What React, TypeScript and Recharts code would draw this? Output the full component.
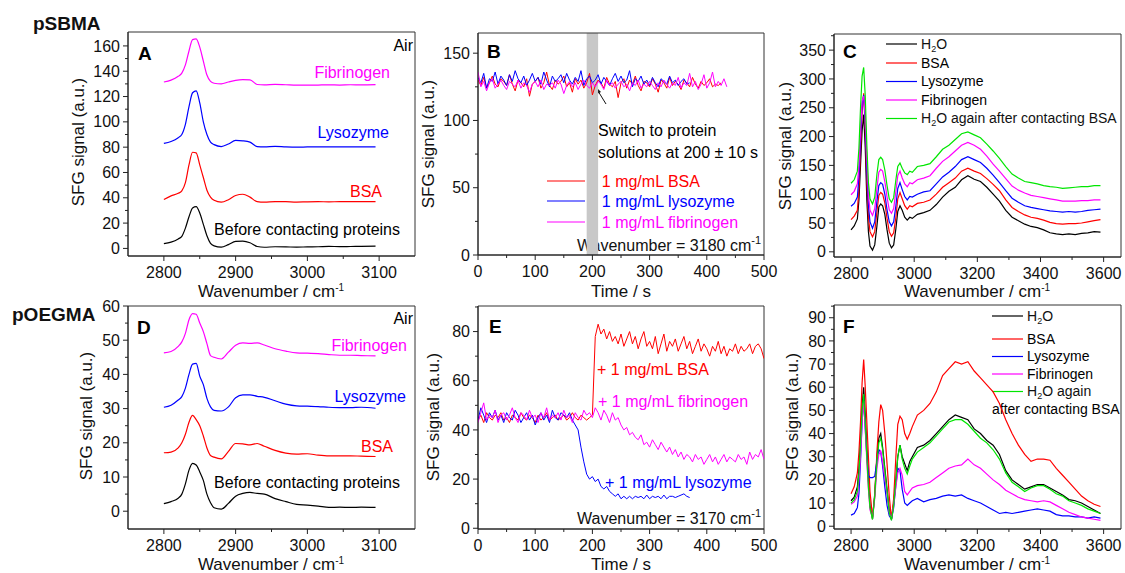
import React from 'react'
import { LineChart, Line, XAxis, YAxis, ReferenceArea } from 'recharts'

const FONT = '"Liberation Sans", Arial, Helvetica, sans-serif'

// ---- panels A / D : spectra in air ----
const wnAD = [2800, 2810, 2820, 2825, 2830, 2835, 2840, 2845, 2850, 2855, 2860, 2865, 2870, 2880, 2890, 2900, 2910, 2920, 2930, 2940, 2955, 2970, 2985, 3000, 3015, 3030, 3045, 3060, 3075, 3095]

const aBefore = [3.8, 5, 7.5, 9.5, 16, 25, 32, 33, 28, 19, 10, 4, 2, 1, 3, 5.5, 5.8, 4.5, 1.5, 0.9, 1.3, 1.2, 1.0, 1.2, 1.3, 1.6, 1.4, 1.5, 1.6, 1.8]
const aBSA = [38.7, 41.5, 43.5, 45.5, 52, 66, 76, 75.5, 66, 56, 46, 40.5, 38, 36.5, 38.5, 41.8, 42.8, 40.5, 37, 36.6, 37, 36.9, 36.6, 36.8, 36.9, 36.8, 36.9, 36.9, 37, 36.9]
const aLys = [83, 84.5, 87.5, 90, 98, 112, 123, 124.5, 115, 100, 90, 84, 82, 80.5, 82.5, 85.3, 85, 84, 80.5, 80.3, 80.6, 80.2, 80, 80.2, 80.3, 80.2, 80.3, 80.2, 80.3, 80.2]
const aFib = [131.5, 133, 136, 138.5, 145, 156, 165, 165.5, 159, 148, 137, 132, 130.5, 130, 131.5, 132.8, 133.3, 133.2, 129.5, 129.2, 129.6, 129.3, 129, 129, 129.1, 129.2, 129.1, 129.3, 129.2, 129.4]

const dBefore = [2.2, 2.8, 3.8, 5, 8, 12, 14, 13.5, 11.5, 9, 5, 2.5, 1, 0.6, 2.3, 4.4, 5.2, 5.5, 5.2, 5, 3.7, 2.8, 2.0, 1.8, 1.5, 1.1, 1.2, 1.1, 1.2, 1.1]
const dBSA = [17.1, 17.3, 18.5, 20, 22.5, 26, 28, 26.8, 25, 22, 18.5, 16.3, 15.8, 15.3, 17.5, 19.8, 19.7, 19.4, 19.8, 19, 17.8, 17, 16.7, 16.8, 16.4, 16.2, 16.2, 16.2, 16.1, 16]
const dLys = [30.4, 31, 32.5, 33.5, 36, 40, 43, 43.2, 39.5, 37, 33, 30.5, 29.5, 29.3, 30.5, 33.2, 34, 34, 33.6, 33.3, 32.3, 31.3, 30.8, 30.7, 30.6, 30.4, 30.3, 30.3, 30.4, 30.1]
const dFib = [46.3, 46.7, 48.2, 49.5, 52, 56, 57.8, 57.6, 55, 52.5, 49, 45.5, 45, 44.5, 46.5, 48.5, 49.2, 49.1, 49.2, 48.6, 47.5, 46.8, 46.3, 46.2, 46.1, 45.8, 45.6, 45.6, 45.5, 45.4]

// ---- panels C / F : spectra in solution ----
const wnCF = [2800, 2810, 2820, 2825, 2830, 2835, 2840, 2845, 2850, 2855, 2860, 2868, 2875, 2882, 2888, 2894, 2900, 2907, 2914, 2921, 2928, 2935, 2942, 2948, 2955, 2962, 2970, 2978, 2986, 2994,
  3010, 3030, 3050, 3070, 3090, 3110, 3130, 3150, 3170, 3190, 3210, 3230, 3250, 3270, 3290, 3310, 3330, 3350, 3370, 3390, 3410, 3430, 3450, 3470, 3490, 3510, 3530, 3550, 3570, 3590]

const cH2O = [38, 45, 57, 90, 150, 210, 238, 180, 90, 35, 10, 3, 12, 45, 78, 83, 80, 65, 38, 15, 7, 12, 40, 70, 80, 72, 60, 55, 60, 58,
  65, 68, 72, 82, 95, 105, 112, 125, 132, 126, 122, 112, 100, 88, 72, 60, 54, 48, 44, 42, 38, 33, 31, 30, 31, 30, 32, 33, 35, 34]
const cBSA = [56, 62, 72, 110, 175, 245, 275, 215, 120, 60, 35, 26, 35, 70, 98, 103, 100, 85, 58, 35, 27, 33, 60, 92, 103, 92, 80, 74, 80, 78,
  84, 86, 90, 100, 112, 120, 128, 140, 145, 140, 136, 127, 117, 106, 90, 77, 70, 64, 60, 58, 55, 51, 49, 48, 49, 49, 50, 52, 54, 56]
const cLys = [79, 84, 95, 130, 195, 255, 272, 225, 140, 80, 52, 41, 52, 88, 115, 120, 117, 100, 73, 52, 45, 52, 80, 110, 120, 108, 96, 90, 96, 95,
  100, 104, 106, 118, 130, 138, 148, 160, 165, 160, 155, 145, 133, 120, 106, 93, 86, 80, 77, 75, 73, 71, 70, 69, 70, 69, 70, 72, 73, 74]
const cFib = [99, 105, 118, 150, 210, 262, 270, 235, 160, 100, 72, 63, 75, 110, 138, 143, 140, 122, 95, 73, 67, 75, 105, 132, 140, 128, 118, 113, 120, 118,
  125, 128, 132, 145, 157, 165, 175, 185, 190, 185, 178, 166, 152, 140, 127, 114, 107, 102, 98, 96, 94, 92, 90, 88, 88, 88, 89, 89, 90, 90]
const cAgain = [119, 125, 140, 180, 250, 305, 320, 270, 185, 120, 92, 83, 95, 135, 160, 164, 160, 142, 115, 92, 86, 94, 125, 148, 154, 145, 137, 134, 140, 138,
  148, 150, 153, 165, 178, 185, 195, 205, 208, 203, 198, 187, 175, 162, 148, 135, 128, 122, 120, 118, 115, 113, 112, 110, 111, 112, 113, 113, 115, 115]

const fH2O = [11, 12.5, 17, 25, 37, 52, 60, 48, 34, 20, 9, 3, 14, 30, 38, 40, 34, 25, 16, 7, 3, 10, 20, 30, 35, 30, 27, 24, 28, 30,
  34, 35, 37, 40, 43, 46, 48, 47, 46, 42, 40, 37, 35, 31, 24, 20, 18, 16, 17, 18, 18, 16.5, 15, 13.5, 11.5, 11, 10, 8.5, 7, 5.5]
const fBSA = [14, 17, 23, 32, 45, 62, 72, 60, 45, 30, 15, 4, 13, 32, 45, 52.5, 50, 40, 27, 13, 3, 12, 30, 44, 47.5, 46, 40, 37.5, 40, 43,
  48, 50, 53, 58, 65, 68, 71, 70, 71, 67, 64, 61, 58, 53, 46, 40, 35, 31, 28, 29, 29, 28.5, 25, 22, 19, 16, 13, 11, 9.5, 8.5]
const fLys = [4.8, 5.5, 8, 14, 28, 45, 56, 42, 30, 22, 21, 21, 21.5, 28, 33, 32, 26, 17, 9, 4.5, 3, 8, 18, 25, 24, 16, 10, 9, 10, 11,
  12, 10.5, 11.5, 12, 13, 13.5, 13, 13.5, 12, 11, 10, 8.5, 7, 5.5, 6, 5.5, 6, 6.5, 7, 7.5, 7, 6.5, 5, 4.5, 4.5, 4, 4, 3.5, 4, 3.5]
const fFib = [9.5, 10.5, 13, 20, 30, 45, 54, 42, 28, 16, 7, 3.5, 12, 25, 31, 32.5, 28, 21, 14, 6, 3, 9, 17, 23, 25, 22, 15, 13.5, 15, 16.5,
  17.5, 18, 19, 21, 23, 25, 26, 26.5, 29, 26.5, 25, 22.5, 20, 18, 15.5, 14, 12.5, 11.5, 11, 10.5, 11, 10.5, 9, 7.5, 6, 5, 4, 3.5, 3, 2.5]
const fAgain = [10, 11.5, 15, 23, 35, 50, 57, 45, 30, 17, 8, 3, 13, 28, 36, 38, 33, 24, 15, 6, 2.5, 9, 20, 30, 35, 29, 25, 22.5, 26, 29,
  32, 34, 36, 39, 42, 45, 46, 46, 44, 41, 38, 36, 33, 29, 23, 19, 17, 15, 16.5, 17.5, 17.5, 16, 14, 13, 11, 10, 9, 7.5, 6.5, 5.5]

// ---- panels B / E : time traces, sampled every 5 s ----
const times = (n: number) => Array.from({ length: n }, (_, i) => i * 5)

const bBSA = [130, 126, 132, 124, 128, 133, 127, 125, 131, 129, 126, 134, 127, 122, 130, 128, 125, 131, 118, 127,
  129, 132, 124, 128, 136, 126, 123, 130, 127, 129, 133, 125, 128, 121, 131, 127, 130, 124, 128, 135,
  119, 126, 130, 128, 124, 132, 127, 125, 129, 117, 128, 131, 124, 130, 127, 133, 126, 122, 129, 128,
  125, 131, 127, 121, 130, 128, 124, 132, 126, 129, 127, 123, 130, 128, 125, 132, 127, 124, 129, 126,
  128, 131, 125, 127, 126, 128]
const bLys = [132, 128, 135, 124, 131, 129, 136, 127, 133, 130, 126, 134, 129, 137, 131, 128, 133, 126, 130, 135,
  129, 132, 127, 136, 130, 125, 133, 129, 131, 134, 128, 135, 130, 127, 132, 129, 137, 126, 131, 133,
  128, 130, 134, 127, 132, 129, 126, 131, 135, 129, 133, 128, 130, 137, 125, 131, 129, 133, 127, 130,
  126, 132, 128, 125, 131, 129, 127, 133, 128, 130, 126, 129, 131, 127, 128]
const bFib = [136, 125, 129, 122, 128, 131, 124, 127, 130, 126, 123, 129, 127, 125, 130, 124, 128, 126, 121, 127,
  129, 125, 130, 123, 127, 126, 128, 124, 130, 127, 120, 126, 129, 125, 128, 123, 127, 130, 126, 124,
  128, 125, 129, 127, 123, 130, 126, 128, 124, 127, 129, 125, 127, 122, 128, 126, 130, 124, 127, 125,
  129, 126, 123, 128, 125, 130, 127, 124, 128, 126, 132, 124, 128, 126, 135, 125, 129, 123, 127, 134,
  124, 128, 136, 125, 129, 126, 131, 125]

const eBSA = [44, 46, 43, 47, 45, 44, 46, 45, 47, 44, 45, 43, 46, 45, 44, 47, 45, 44, 46, 45,
  43, 46, 44, 45, 47, 44, 45, 46, 44, 45, 46, 44, 45, 47, 45, 44, 46, 45, 44, 45,
  46, 78, 83, 79, 81, 77, 80, 76, 78, 75, 79, 74, 77, 80, 75, 78, 73, 77, 80, 74,
  76, 73, 78, 71, 75, 79, 72, 76, 74, 77, 72, 75, 78, 73, 76, 71, 74, 77, 72, 75,
  73, 70, 74, 72, 76, 71, 74, 70, 73, 72, 75, 71, 74, 72, 73, 75, 71, 74, 75, 73, 69]
const eLys = [44, 49, 46, 43, 47, 45, 48, 44, 46, 43, 47, 45, 44, 48, 46, 43, 45, 47, 44, 46,
  42, 45, 47, 44, 46, 43, 48, 45, 44, 47, 46, 45, 47, 44,
  42, 40, 33, 27, 22, 20, 21, 19, 20, 17, 16, 17, 15, 14, 13, 14, 12, 13, 12, 13,
  12, 13, 12.5, 13, 12, 13.5, 12, 13, 12.5, 13, 12, 13.5, 12, 13, 13, 12.5, 13, 13.5, 14, 13, 12.5]
const eFib = [43, 47, 51, 44, 46, 45, 48, 43, 46, 47, 44, 46, 49, 45, 43, 47, 46, 44, 48, 45,
  46, 43, 47, 45, 49, 44, 46, 45, 47, 44, 48, 45, 46, 43, 47, 45, 44, 48, 46, 47,
  45, 49, 47, 44, 48, 46, 43, 47, 44, 45, 42, 40, 41, 38, 39, 37, 36, 38, 34, 35,
  33, 36, 34, 32, 35, 33, 31, 33, 30, 32, 29, 31, 28, 30, 29, 27, 30, 28, 29, 26,
  28, 30, 27, 29, 26, 28, 30, 27, 29, 28, 27, 30, 28, 29, 26, 31, 28, 30, 29, 32, 28]

// ---- axis ticks ----
const wnADTicks = [2800, 2850, 2900, 2950, 3000, 3050, 3100]
const wnADMajor = [2800, 2900, 3000, 3100]
const wnCFTicks = [2800, 2900, 3000, 3100, 3200, 3300, 3400, 3500, 3600]
const wnCFMajor = [2800, 3000, 3200, 3400, 3600]
const timeTicks = [0, 50, 100, 150, 200, 250, 300, 350, 400, 450, 500]
const timeMajor = [0, 100, 200, 300, 400, 500]
const aYTicks = [0, 10, 20, 30, 40, 50, 60, 70, 80, 90, 100, 110, 120, 130, 140, 150, 160]
const aYMajor = [0, 20, 40, 60, 80, 100, 120, 140, 160]
const bYTicks = [0, 25, 50, 75, 100, 125, 150]
const bYMajor = [0, 50, 100, 150]
const cYTicks = [0, 25, 50, 75, 100, 125, 150, 175, 200, 225, 250, 275, 300, 325, 350, 375]
const cYMajor = [0, 50, 100, 150, 200, 250, 300, 350]
const dYTicks = [0, 5, 10, 15, 20, 25, 30, 35, 40, 45, 50, 55, 60]
const dYMajor = [0, 10, 20, 30, 40, 50, 60]
const eYTicks = [0, 10, 20, 30, 40, 50, 60, 70, 80, 90]
const eYMajor = [0, 20, 40, 60, 80]
const fYTicks = [0, 5, 10, 15, 20, 25, 30, 35, 40, 45, 50, 55, 60, 65, 70, 75, 80, 85, 90, 95]
const fYMajor = [0, 10, 20, 30, 40, 50, 60, 70, 80, 90]

const BLACK = '#000000'
const RED = '#ff0000'
const BLUE = '#0000ff'
const MAGENTA = '#ff00ff'
const GREEN = '#00e600'

const AXIS_W = 50
const AXIS_H = 30

const pts = (xs: number[], ys: number[]) => xs.map((x, i) => ({ x, y: ys[i] }))

const BottomTick = (props: any) => {
  const { x, y, payload, majors } = props
  const major = majors.includes(payload.value)
  return (
    <g>
      <line x1={x} x2={x} y1={y} y2={y + (major ? 5 : 3)} stroke="#222" strokeWidth={1} />
      {major && (
        <text x={x} y={y + 16} dy="0.35em" textAnchor="middle" fontSize={16} fontFamily={FONT} fill="#111">
          {payload.value}
        </text>
      )}
    </g>
  )
}

const LeftTick = (props: any) => {
  const { x, y, payload, majors } = props
  const major = majors.includes(payload.value)
  return (
    <g>
      <line x1={x} x2={x - (major ? 5 : 3)} y1={y} y2={y} stroke="#222" strokeWidth={1} />
      {major && (
        <text x={x - 8} y={y} dy="0.35em" textAnchor="end" fontSize={16} fontFamily={FONT} fill="#111">
          {payload.value}
        </text>
      )}
    </g>
  )
}

const Txt = ({ x, y, color = '#000', size = 16, anchor = 'start', bold = false, children }: any) => (
  <text x={x} y={y} dy="0.35em" fill={color} fontSize={size} textAnchor={anchor}
    fontWeight={bold ? 'bold' : 'normal'} fontFamily={FONT}>
    {children}
  </text>
)

const YTitle = ({ x, y }: any) => (
  <text x={x} y={y} dy="0.35em" textAnchor="middle" fontSize={17} fontFamily={FONT} fill="#111"
    transform={`rotate(-90, ${x}, ${y})`}>
    SFG signal (a.u.)
  </text>
)

const WnTitle = ({ x, y }: any) => (
  <text x={x} y={y} textAnchor="middle" fontSize={17} fontFamily={FONT} fill="#111">
    Wavenumber / cm<tspan dy={-6} fontSize={10}>-1</tspan>
  </text>
)

const H2O = ({ x, y, rest = '' }: any) => (
  <text x={x} y={y} dy="0.35em" fontSize={14} fontFamily={FONT} fill="#111">
    H<tspan dy={3} fontSize={9}>2</tspan><tspan dy={-3}>O{rest}</tspan>
  </text>
)

interface Series { xs: number[]; ys: number[]; color: string }

interface PanelProps {
  box: [number, number, number, number]
  xDomain: [number, number]
  yDomain: [number, number]
  xTicks: number[]
  xMajor: number[]
  yTicks: number[]
  yMajor: number[]
  series: Series[]
  curve?: 'monotone' | 'linear'
  width?: number
  band?: [number, number]
  children?: React.ReactNode
}

function Panel({ box, xDomain, yDomain, xTicks, xMajor, yTicks, yMajor, series, curve = 'linear', width = 1.2, band, children }: PanelProps) {
  const [left, top, right, bottom] = box
  return (
    <div style={{ position: 'absolute', left: 0, top: 0 }}>
      <LineChart width={1125} height={573}
        margin={{ top, left: left - AXIS_W, right: 1125 - right, bottom: 573 - bottom - AXIS_H }}>
        <XAxis type="number" dataKey="x" domain={xDomain} allowDataOverflow ticks={xTicks} interval={0}
          height={AXIS_H} tickSize={0} tickMargin={0} tickLine={false} stroke="#222"
          tick={(p: any) => <BottomTick {...p} majors={xMajor} />} />
        <YAxis type="number" dataKey="y" domain={yDomain} allowDataOverflow ticks={yTicks} interval={0}
          width={AXIS_W} tickSize={0} tickMargin={0} tickLine={false} stroke="#222"
          tick={(p: any) => <LeftTick {...p} majors={yMajor} />} />
        {band && (
          <ReferenceArea x1={band[0]} x2={band[1]} y1={yDomain[0]} y2={yDomain[1]} fill="#c8c8c8" fillOpacity={1} stroke="none" />
        )}
        {series.map((s, i) => (
          <Line key={i} data={pts(s.xs, s.ys)} dataKey="y" type={curve} stroke={s.color} strokeWidth={width}
            dot={false} activeDot={false} isAnimationActive={false} />
        ))}
        <ReferenceArea x1={xDomain[0]} x2={xDomain[1]} y1={yDomain[0]} y2={yDomain[1]} fill="none" stroke="#333" strokeWidth={1} />
        {children}
      </LineChart>
    </div>
  )
}

export default function App() {
  return (
    <div style={{ position: 'absolute', left: 0, top: 0, width: 1125, height: 573, background: '#fff', fontFamily: FONT }}>
      {/* A */}
      <Panel box={[128, 32, 415, 256]} xDomain={[2750, 3150]} yDomain={[-6, 171]}
        xTicks={wnADTicks} xMajor={wnADMajor} yTicks={aYTicks} yMajor={aYMajor} curve="monotone"
        series={[
          { xs: wnAD, ys: aBefore, color: BLACK },
          { xs: wnAD, ys: aBSA, color: RED },
          { xs: wnAD, ys: aLys, color: BLUE },
          { xs: wnAD, ys: aFib, color: MAGENTA },
        ]}>
        <text x={33} y={30} fontSize={19} fontWeight="bold" fontFamily={FONT} fill="#111">pSBMA</text>
        <Txt x={138} y={53} size={19} bold>A</Txt>
        <Txt x={413} y={45} anchor="end">Air</Txt>
        <Txt x={390} y={72} anchor="end" color={MAGENTA}>Fibrinogen</Txt>
        <Txt x={389} y={132} anchor="end" color={BLUE}>Lysozyme</Txt>
        <Txt x={382} y={191} anchor="end" color={RED}>BSA</Txt>
        <Txt x={400} y={229} anchor="end">Before contacting proteins</Txt>
        <YTitle x={78} y={142} />
        <WnTitle x={271} y={297} />
      </Panel>

      {/* B */}
      <Panel box={[478, 33, 764, 255]} xDomain={[0, 500]} yDomain={[0, 165]}
        xTicks={timeTicks} xMajor={timeMajor} yTicks={bYTicks} yMajor={bYMajor} width={1} band={[190, 210]}
        series={[
          { xs: times(bBSA.length), ys: bBSA, color: RED },
          { xs: times(bLys.length), ys: bLys, color: BLUE },
          { xs: times(bFib.length), ys: bFib, color: MAGENTA },
        ]}>
        <Txt x={487} y={51} size={19} bold>B</Txt>
        <line x1={606} y1={104} x2={598} y2={91} stroke="#111" strokeWidth={1} />
        <polygon points="596,87 595,95 601,92" fill="#111" />
        <Txt x={598} y={130}>Switch to protein</Txt>
        <Txt x={598} y={152}>solutions at 200 ± 10 s</Txt>
        <line x1={547} x2={585} y1={181} y2={181} stroke={RED} strokeWidth={1.2} />
        <line x1={547} x2={585} y1={201} y2={201} stroke={BLUE} strokeWidth={1.2} />
        <line x1={547} x2={585} y1={222} y2={222} stroke={MAGENTA} strokeWidth={1.2} />
        <Txt x={588} y={181} color={RED}>+ 1 mg/mL BSA</Txt>
        <Txt x={588} y={201} color={BLUE}>+ 1 mg/mL lysozyme</Txt>
        <Txt x={588} y={222} color={MAGENTA}>+ 1 mg/mL fibrinogen</Txt>
        <text x={761} y={251} textAnchor="end" fontSize={16} fontFamily={FONT} fill="#111">
          Wavenumber = 3180 cm<tspan dy={-7} fontSize={11}>-1</tspan>
        </text>
        <YTitle x={428} y={144} />
        <text x={621} y={297} textAnchor="middle" fontSize={17} fontFamily={FONT} fill="#111">Time / s</text>
      </Panel>

      {/* C */}
      <Panel box={[834, 34, 1121, 257]} xDomain={[2746, 3655]} yDomain={[-9, 378]}
        xTicks={wnCFTicks} xMajor={wnCFMajor} yTicks={cYTicks} yMajor={cYMajor}
        series={[
          { xs: wnCF, ys: cH2O, color: BLACK },
          { xs: wnCF, ys: cBSA, color: RED },
          { xs: wnCF, ys: cLys, color: BLUE },
          { xs: wnCF, ys: cFib, color: MAGENTA },
          { xs: wnCF, ys: cAgain, color: GREEN },
        ]}>
        <Txt x={843} y={51} size={19} bold>C</Txt>
        <line x1={886} x2={917} y1={44} y2={44} stroke={BLACK} strokeWidth={1.2} />
        <line x1={886} x2={917} y1={63} y2={63} stroke={RED} strokeWidth={1.2} />
        <line x1={886} x2={917} y1={81.5} y2={81.5} stroke={BLUE} strokeWidth={1.2} />
        <line x1={886} x2={917} y1={100} y2={100} stroke={MAGENTA} strokeWidth={1.2} />
        <line x1={886} x2={917} y1={118.5} y2={118.5} stroke={GREEN} strokeWidth={1.2} />
        <H2O x={921} y={44} />
        <Txt x={921} y={63} size={14}>BSA</Txt>
        <Txt x={921} y={81.5} size={14}>Lysozyme</Txt>
        <Txt x={921} y={100} size={14}>Fibrinogen</Txt>
        <H2O x={921} y={118.5} rest=" again after contacting BSA" />
        <YTitle x={785} y={146} />
        <WnTitle x={977} y={297} />
      </Panel>

      {/* D */}
      <Panel box={[128, 306, 415, 529]} xDomain={[2750, 3150]} yDomain={[-5.2, 60]}
        xTicks={wnADTicks} xMajor={wnADMajor} yTicks={dYTicks} yMajor={dYMajor} curve="monotone"
        series={[
          { xs: wnAD, ys: dBefore, color: BLACK },
          { xs: wnAD, ys: dBSA, color: RED },
          { xs: wnAD, ys: dLys, color: BLUE },
          { xs: wnAD, ys: dFib, color: MAGENTA },
        ]}>
        <text x={12} y={321} fontSize={19} fontWeight="bold" fontFamily={FONT} fill="#111">pOEGMA</text>
        <Txt x={137} y={327} size={19} bold>D</Txt>
        <Txt x={413} y={318} anchor="end">Air</Txt>
        <Txt x={407} y={345} anchor="end" color={MAGENTA}>Fibrinogen</Txt>
        <Txt x={406} y={396} anchor="end" color={BLUE}>Lysozyme</Txt>
        <Txt x={393} y={446} anchor="end" color={RED}>BSA</Txt>
        <Txt x={400} y={482} anchor="end">Before contacting proteins</Txt>
        <YTitle x={86} y={416} />
        <WnTitle x={271} y={570} />
      </Panel>

      {/* E */}
      <Panel box={[478, 306, 764, 529]} xDomain={[0, 500]} yDomain={[-0.3, 90.4]}
        xTicks={timeTicks} xMajor={timeMajor} yTicks={eYTicks} yMajor={eYMajor} width={1}
        series={[
          { xs: times(eBSA.length), ys: eBSA, color: RED },
          { xs: times(eLys.length), ys: eLys, color: BLUE },
          { xs: times(eFib.length), ys: eFib, color: MAGENTA },
        ]}>
        <Txt x={489} y={326} size={19} bold>E</Txt>
        <Txt x={597} y={369} color={RED}>+ 1 mg/mL BSA</Txt>
        <Txt x={598} y={401} color={MAGENTA}>+ 1 mg/mL fibrinogen</Txt>
        <Txt x={605} y={482} color={BLUE}>+ 1 mg/mL lysozyme</Txt>
        <text x={761} y={524} textAnchor="end" fontSize={16} fontFamily={FONT} fill="#111">
          Wavenumber = 3170 cm<tspan dy={-7} fontSize={11}>-1</tspan>
        </text>
        <YTitle x={433} y={417} />
        <text x={621} y={570} textAnchor="middle" fontSize={17} fontFamily={FONT} fill="#111">Time / s</text>
      </Panel>

      {/* F */}
      <Panel box={[834, 305, 1121, 529]} xDomain={[2746, 3655]} yDomain={[-1.2, 95.5]}
        xTicks={wnCFTicks} xMajor={wnCFMajor} yTicks={fYTicks} yMajor={fYMajor}
        series={[
          { xs: wnCF, ys: fH2O, color: BLACK },
          { xs: wnCF, ys: fBSA, color: RED },
          { xs: wnCF, ys: fLys, color: BLUE },
          { xs: wnCF, ys: fFib, color: MAGENTA },
          { xs: wnCF, ys: fAgain, color: GREEN },
        ]}>
        <Txt x={843} y={326} size={19} bold>F</Txt>
        <line x1={992} x2={1023} y1={316} y2={316} stroke={BLACK} strokeWidth={1.2} />
        <line x1={992} x2={1023} y1={339} y2={339} stroke={RED} strokeWidth={1.2} />
        <line x1={992} x2={1023} y1={356.5} y2={356.5} stroke={BLUE} strokeWidth={1.2} />
        <line x1={992} x2={1023} y1={374} y2={374} stroke={MAGENTA} strokeWidth={1.2} />
        <line x1={992} x2={1023} y1={391.5} y2={391.5} stroke={GREEN} strokeWidth={1.2} />
        <H2O x={1027} y={316} />
        <Txt x={1027} y={339} size={14}>BSA</Txt>
        <Txt x={1027} y={356.5} size={14}>Lysozyme</Txt>
        <Txt x={1027} y={374} size={14}>Fibrinogen</Txt>
        <H2O x={1027} y={391.5} rest=" again" />
        <Txt x={992} y={409} size={14}>after contacting BSA</Txt>
        <YTitle x={792} y={417} />
        <WnTitle x={977} y={570} />
      </Panel>
    </div>
  )
}
